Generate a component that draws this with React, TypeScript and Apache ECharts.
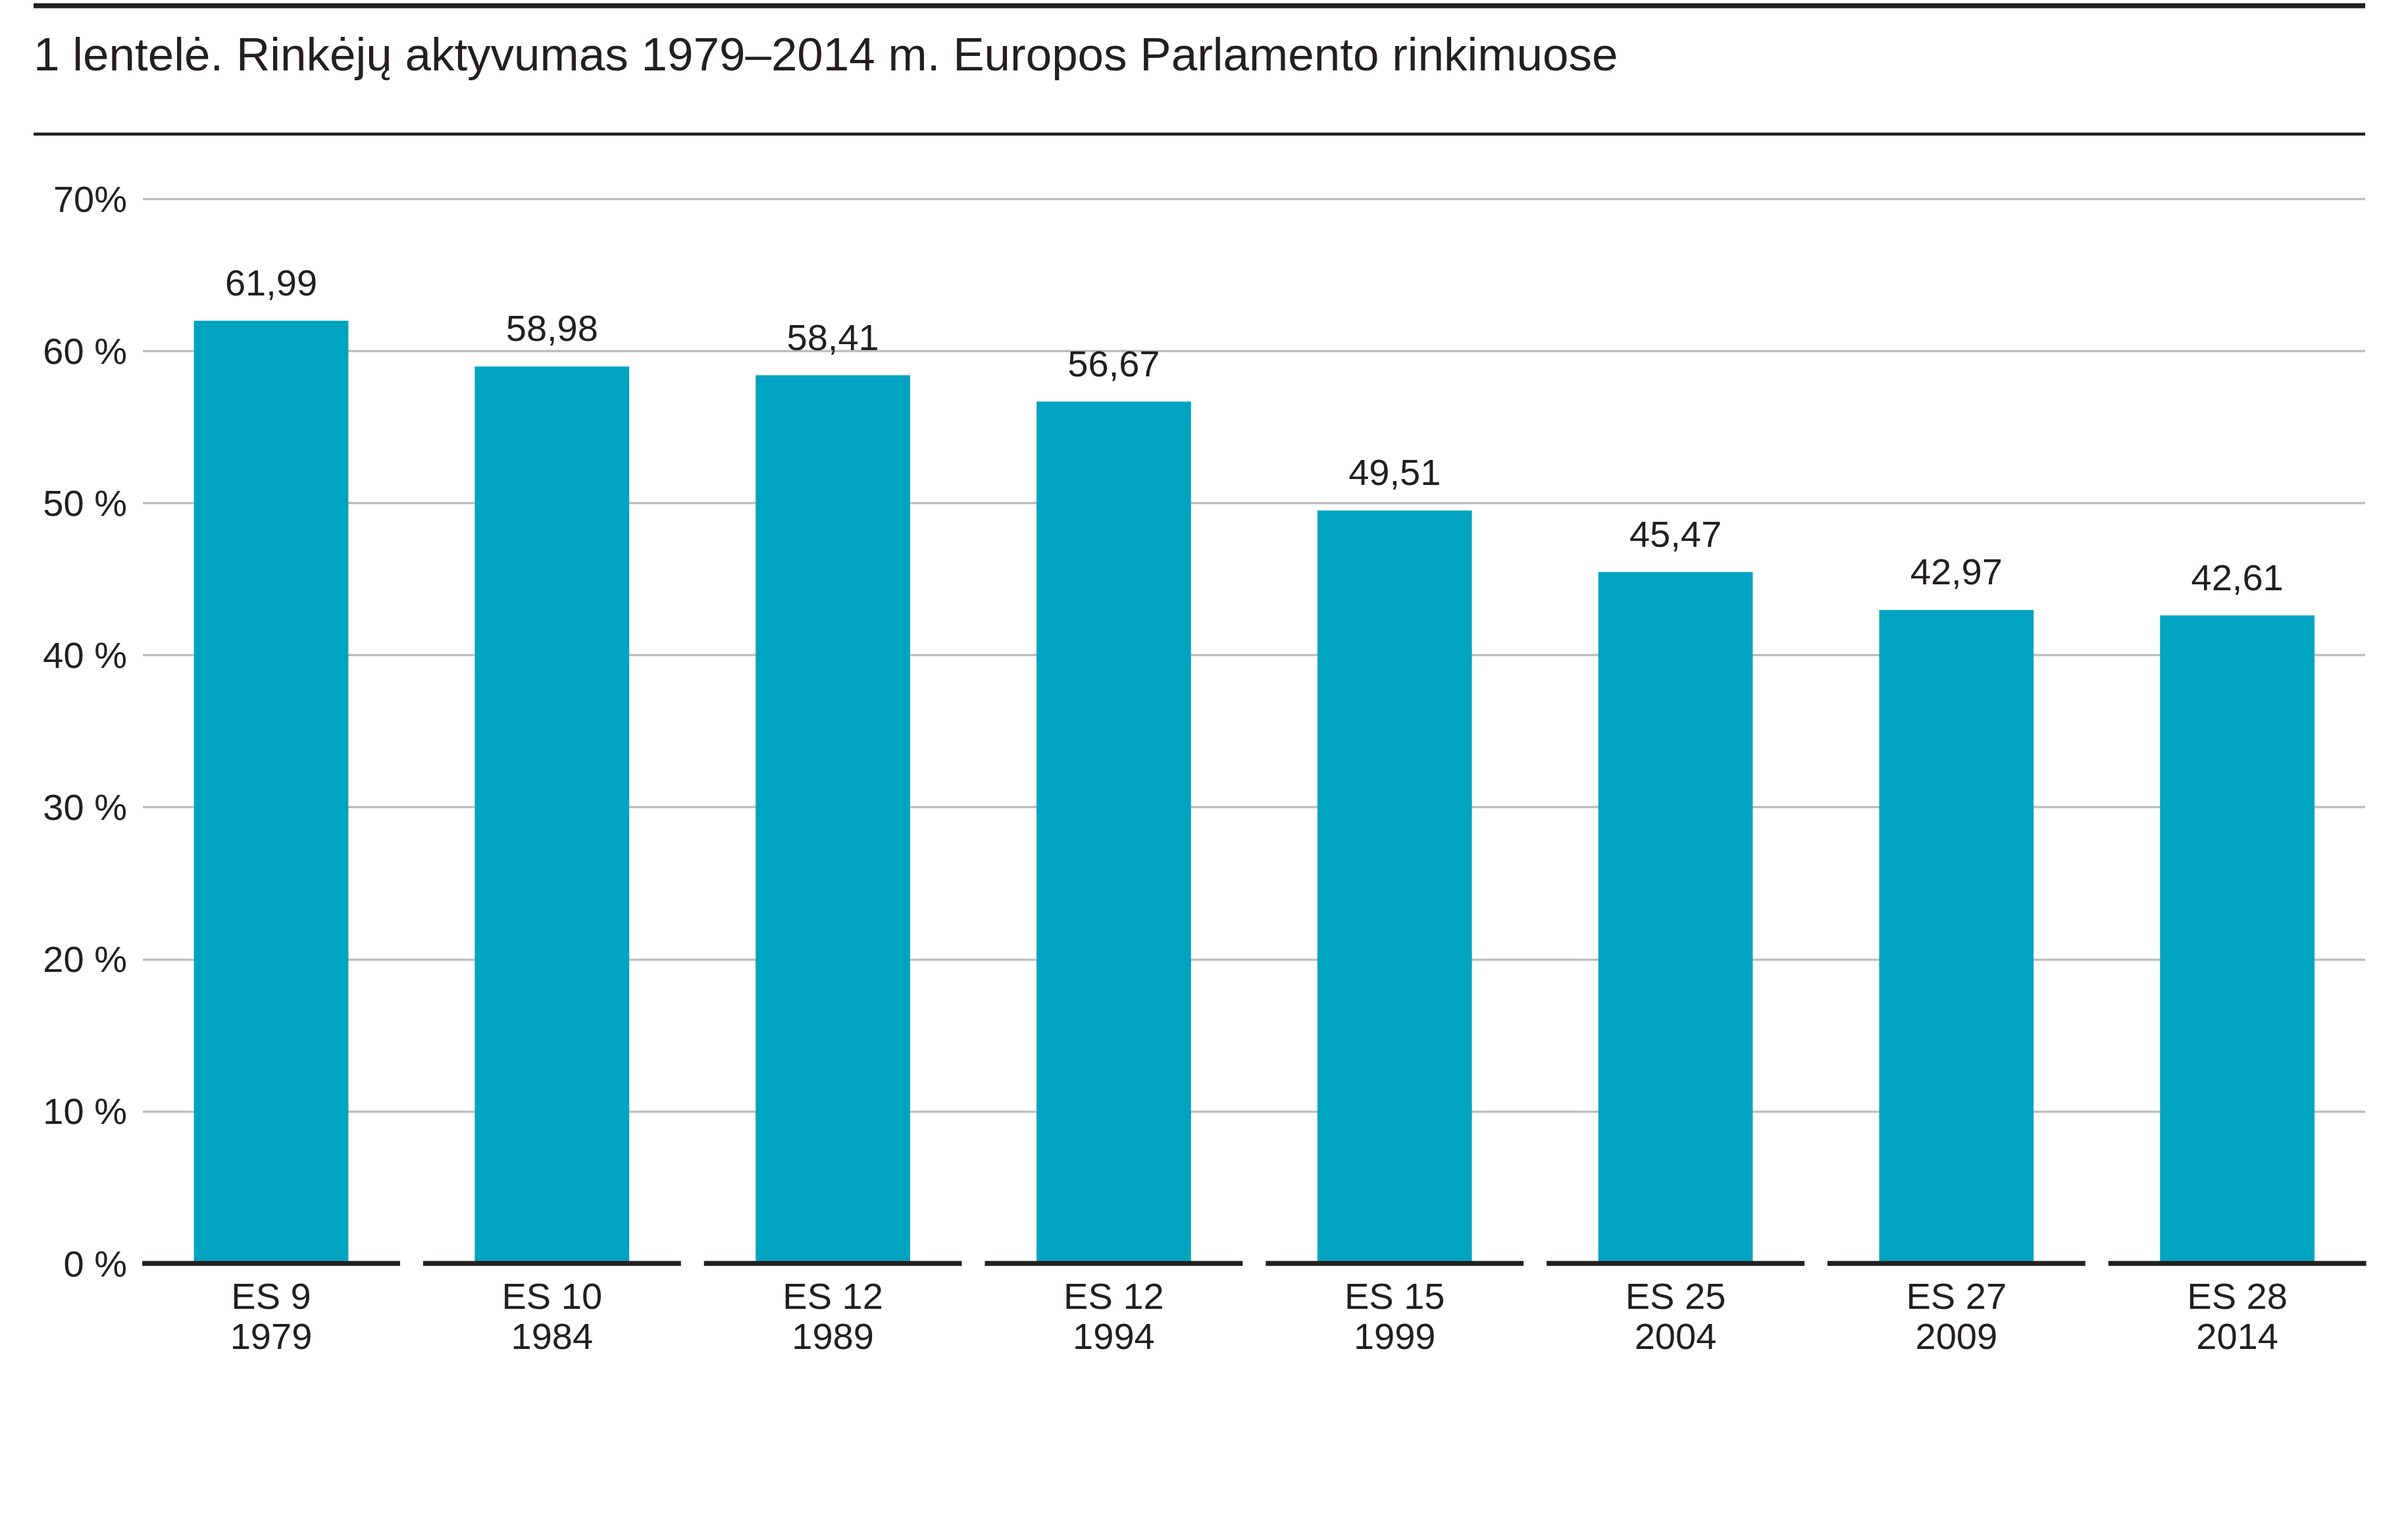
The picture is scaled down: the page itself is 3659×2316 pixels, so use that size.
import React, { useEffect, useRef } from 'react';
import * as echarts from 'echarts';

// Data
const memberStates = ['ES 9', 'ES 10', 'ES 12', 'ES 12', 'ES 15', 'ES 25', 'ES 27', 'ES 28'];
const years = ['1979', '1984', '1989', '1994', '1999', '2004', '2009', '2014'];
const turnout = [61.99, 58.98, 58.41, 56.67, 49.51, 45.47, 42.97, 42.61];
const yTickLabels = ['0 %', '10 %', '20 %', '30 %', '40 %', '50 %', '60 %', '70%'];

const TITLE = '1 lentelė. Rinkėjų aktyvumas 1979–2014 m. Europos Parlamento rinkimuose';

const INK = '#231F20';
const BAR = '#00A4C1';
const GRID_LINE = '#BEBEBE';
const FONT = '"Liberation Sans", Arial, Helvetica, sans-serif';

const categories = memberStates.map((m, i) => m + '\n' + years[i]);

const App: React.FC = () => {
    const chartRef = useRef<HTMLDivElement>(null);

    useEffect(() => {
        if (!chartRef.current) return;
        const chart = echarts.init(chartRef.current, null, { renderer: 'svg' });

        const option: any = {
            animation: false,
            backgroundColor: '#ffffff',
            textStyle: { fontFamily: FONT, color: INK },
            title: {
                text: TITLE,
                left: 51,
                top: 47,
                padding: 0,
                textStyle: { fontFamily: FONT, fontSize: 71, fontWeight: 'normal', color: INK }
            },
            graphic: [
                { type: 'rect', shape: { x: 51, y: 5, width: 3543, height: 7.5 }, style: { fill: INK } },
                { type: 'rect', shape: { x: 51, y: 201.5, width: 3543, height: 4.5 }, style: { fill: INK } }
            ],
            grid: [
                { left: 217, right: 65, top: 302.3, bottom: 396 },
                { left: 198.6, right: 46, top: 302.3, bottom: 396 }
            ],
            xAxis: [
                {
                    type: 'category',
                    gridIndex: 0,
                    data: categories,
                    show: false
                },
                {
                    type: 'category',
                    gridIndex: 1,
                    data: categories,
                    axisLine: { show: false },
                    axisTick: { show: false },
                    axisLabel: {
                        margin: 19,
                        fontSize: 56,
                        lineHeight: 61,
                        color: INK,
                        fontFamily: FONT
                    }
                }
            ],
            yAxis: [
                {
                    type: 'value',
                    gridIndex: 0,
                    min: 0,
                    max: 70,
                    interval: 10,
                    axisLine: { show: false },
                    axisTick: { show: false },
                    axisLabel: {
                        margin: 24,
                        fontSize: 56,
                        color: INK,
                        fontFamily: FONT,
                        formatter: (v: number) => yTickLabels[Math.round(v / 10)]
                    },
                    splitLine: {
                        show: true,
                        showMinLine: false,
                        lineStyle: { color: GRID_LINE, width: 3.4 }
                    }
                },
                {
                    type: 'value',
                    gridIndex: 1,
                    min: 0,
                    max: 70,
                    interval: 10,
                    show: false,
                    splitLine: { show: false }
                }
            ],
            series: [
                {
                    type: 'bar',
                    xAxisIndex: 1,
                    yAxisIndex: 1,
                    barWidth: '55%',
                    data: turnout,
                    itemStyle: { color: BAR },
                    label: {
                        show: true,
                        position: 'top',
                        distance: 30,
                        fontSize: 56,
                        color: INK,
                        fontFamily: FONT,
                        formatter: (p: any) => p.value.toFixed(2).replace('.', ',')
                    }
                },
                {
                    // segmented baseline under each category
                    type: 'custom',
                    xAxisIndex: 1,
                    yAxisIndex: 1,
                    silent: true,
                    z: 5,
                    data: categories.map((_, i) => [i, 0]),
                    encode: { x: 0, y: 1 },
                    renderItem: (params: any, api: any) => {
                        const p = api.coord([api.value(0), 0]);
                        const w = api.size([1, 0])[0];
                        return {
                            type: 'line',
                            shape: { x1: p[0] - w / 2 + 17.5, y1: p[1], x2: p[0] + w / 2 - 17.5, y2: p[1] },
                            style: { stroke: INK, lineWidth: 7.5 }
                        };
                    }
                }
            ]
        };

        chart.setOption(option);

        const handleResize = () => chart.resize();
        window.addEventListener('resize', handleResize);
        return () => {
            window.removeEventListener('resize', handleResize);
            chart.dispose();
        };
    }, []);

    return (
        <div
            ref={chartRef}
            style={{ position: 'fixed', left: 0, top: 0, width: '100vw', height: '100vh' }}
        />
    );
};

export default App;
